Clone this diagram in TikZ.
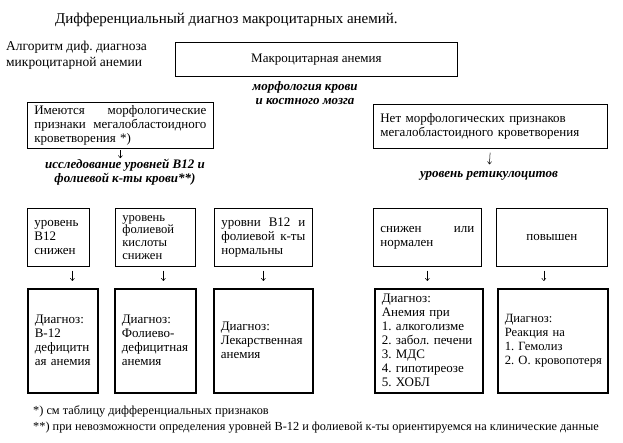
\documentclass[tikz,border=0pt]{standalone}
\usepackage{fontspec}
\setmainfont{Liberation Serif}
\frenchspacing
\usetikzlibrary{arrows.meta}

\tikzset{
  blok/.style={draw, line width=0.7pt, inner xsep=7pt, inner ysep=0pt, align=left,
    font=\fontsize{13}{14}\selectfont},
  diag/.style={blok, line width=1.6pt},
  pometka/.style={inner sep=0pt, align=center, font=\fontsize{13}{14}\selectfont\bfseries\itshape},
  strelka/.style={-{To[length=3pt,width=4.5pt]}, line width=0.5pt, shorten <=4pt, shorten >=7pt},
}

\begin{document}
\begin{tikzpicture}[x=1pt, y=-1pt]
    \useasboundingbox[fill=white] (0,0) rectangle (623,443);

    % Заголовок
    \node[anchor=west, inner sep=0pt, font=\fontsize{15}{17}\selectfont] (title) at (55,20)
      {Дифференциальный диагноз макроцитарных анемий.};
    \node[anchor=west, inner sep=0pt, align=left, font=\fontsize{13.5}{16}\selectfont] (algo) at (6,55)
      {Алгоритм диф. диагноза\\микроцитарной анемии};

    % Верхний блок
    \node[blok, align=center, anchor=north west, minimum width=282pt, minimum height=34pt] (makro) at (175,42)
      {Макроцитарная анемия};
    \node[pometka] (morf) at (305,93) {морфология крови\\и костного мозга};

    % Второй ряд
    \node[blok, anchor=north west, text width=172pt, minimum height=46pt] (est) at (27,102)
      {Имеются\hfill морфологические\\признаки\hfill мегалобластоидного\\кроветворения *)};
    \node[blok, anchor=north west, text width=220pt, minimum height=44pt] (net) at (373,104)
      {Нет морфологических признаков\\мегалобластоидного кроветворения};
    \node[pometka] (issl) at (125,172) {исследование уровней В12 и\\фолиевой к-ты крови**)};
    \node[pometka] (retik) at (489,176) {уровень ретикулоцитов};
    \draw[strelka, shorten <=1.5pt, shorten >=0.5pt] (est.south) -- (est.south |- issl.north);
    \draw[strelka] (net.south) -- (retik.north);

    % Третий ряд
    \node[blok, anchor=north west, text width=48pt, minimum height=58pt] (b12) at (27,208)
      {уровень\\В12\\снижен};
    \node[blok, anchor=north west, text width=66pt, minimum height=58pt,
      font=\fontsize{12.6}{12.8}\selectfont] (fol) at (115,208)
      {уровень\\фолиевой\\кислоты\\снижен};
    \node[blok, anchor=north west, text width=84pt, minimum height=58pt] (norm) at (214,208)
      {уровни\hfill В12\hfill и\\фолиевой\hfill к-ты\\нормальны};
    \node[blok, anchor=north west, text width=94pt, minimum height=58pt] (snizh) at (373,208)
      {снижен\hfill или\\нормален};
    \node[blok, align=center, anchor=north west, text width=97pt, minimum height=58pt] (pov) at (496,208)
      {повышен};

    % Диагнозы
    \node[diag, anchor=north west, text width=56pt, minimum height=104pt] (d1) at (27,288)
      {Диагноз:\\В-12\\дефицитн\\ая~анемия};
    \node[diag, anchor=north west, text width=67pt, minimum height=104pt] (d2) at (114,288)
      {Диагноз:\\Фолиево-\\дефицитная\\анемия};
    \node[diag, anchor=north west, text width=85pt, minimum height=104pt] (d3) at (213,288)
      {Диагноз:\\Лекарственная\\анемия};
    \node[diag, anchor=north west, text width=94pt, minimum height=104pt] (d4) at (374,288)
      {Диагноз:\\Анемия~при\\1.~алкоголизме\\2.~забол.~печени\\3.~МДС\\4.~гипотиреозе\\5.~ХОБЛ};
    \node[diag, anchor=north west, text width=96pt, minimum height=104pt,
      font=\fontsize{12.6}{14}\selectfont] (d5) at (497,288)
      {Диагноз:\\Реакция~на\\1.~Гемолиз\\2.~О.~кровопотеря};

    % Стрелки между рядами
    \draw[strelka] ([xshift=14pt]b12.south) -- ([xshift=14pt]b12.south |- d1.north);
    \draw[strelka] ([xshift=8pt]fol.south) -- ([xshift=8pt]fol.south |- d2.north);
    \draw[strelka] (norm.south) -- (norm.south |- d3.north);
    \draw[strelka] (snizh.south) -- (snizh.south |- d4.north);
    \draw[strelka] ([xshift=-8pt]pov.south) -- ([xshift=-8pt]pov.south |- d5.north);

    % Сноски
    \node[anchor=west, inner sep=0pt, align=left, font=\fontsize{12.3}{16}\selectfont] (sn) at (33,419)
      {*) см таблицу дифференциальных признаков\\
       **) при невозможности определения уровней В-12 и фолиевой к-ты ориентируемся на клинические данные};
\end{tikzpicture}
\end{document}
